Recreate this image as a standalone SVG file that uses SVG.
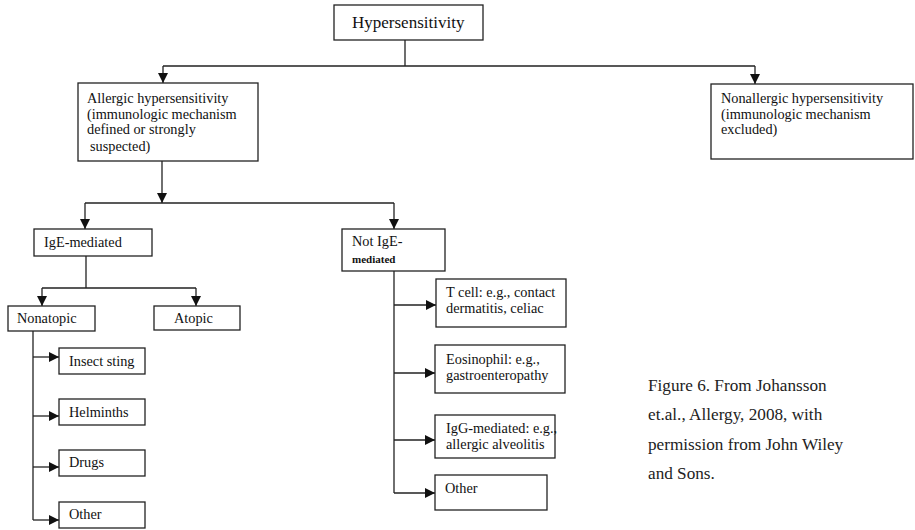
<svg xmlns="http://www.w3.org/2000/svg" width="915" height="530" viewBox="0 0 915 530">
<style>
.box{fill:#fff;stroke:#222;stroke-width:1.3}
.t{font-family:"Liberation Serif","Times New Roman",serif;font-size:14.3px;fill:#111}
.big{font-size:17px}
.sm{font-size:11px;font-weight:bold}
.cap{font-family:"Liberation Serif","Times New Roman",serif;font-size:17.2px;fill:#222}
.ln{fill:none;stroke:#222;stroke-width:1.3}
</style>
<defs>
<marker id="ah" markerUnits="userSpaceOnUse" markerWidth="11" markerHeight="10" refX="10" refY="5" orient="auto">
<path d="M0,0 L10,5 L0,10 z" fill="#111"/>
</marker>
</defs>
<rect width="915" height="530" fill="#fff"/>
<g id="connectors">
<path class="ln" d="M405,40 V66 M163,66 H755"/>
<path class="ln" d="M163,66 V83" marker-end="url(#ah)"/>
<path class="ln" d="M755,66 V84" marker-end="url(#ah)"/>
<path class="ln" d="M162,161 V203" marker-end="url(#ah)"/>
<path class="ln" d="M85,203 H394"/>
<path class="ln" d="M85,203 V229" marker-end="url(#ah)"/>
<path class="ln" d="M394,203 V229" marker-end="url(#ah)"/>
<path class="ln" d="M86,256 V288 M42,288 H196"/>
<path class="ln" d="M42,288 V306" marker-end="url(#ah)"/>
<path class="ln" d="M196,288 V306" marker-end="url(#ah)"/>
<path class="ln" d="M33,331 V520"/>
<path class="ln" d="M33,357 H59" marker-end="url(#ah)"/>
<path class="ln" d="M33,416 H59" marker-end="url(#ah)"/>
<path class="ln" d="M33,467 H59" marker-end="url(#ah)"/>
<path class="ln" d="M33,520 H59" marker-end="url(#ah)"/>
<path class="ln" d="M394,271 V493"/>
<path class="ln" d="M394,305 H436" marker-end="url(#ah)"/>
<path class="ln" d="M394,373 H435" marker-end="url(#ah)"/>
<path class="ln" d="M394,440 H435" marker-end="url(#ah)"/>
<path class="ln" d="M394,493 H435" marker-end="url(#ah)"/>
</g>
<g id="hypersensitivity">
<rect class="box" x="334" y="5" width="149" height="35"/>
<text class="t big" x="352" y="28">Hypersensitivity</text>
</g>
<g id="allergic">
<rect class="box" x="78" y="83" width="180" height="78"/>
<text class="t" x="87" y="103">Allergic hypersensitivity</text>
<text class="t" x="87" y="119">(immunologic mechanism</text>
<text class="t" x="87" y="134">defined or strongly</text>
<text class="t" x="90" y="151">suspected)</text>
</g>
<g id="nonallergic">
<rect class="box" x="711" y="84" width="202" height="75"/>
<text class="t" x="721" y="103">Nonallergic hypersensitivity</text>
<text class="t" x="721" y="119">(immunologic mechanism</text>
<text class="t" x="721" y="134">excluded)</text>
</g>
<g id="ige">
<rect class="box" x="34" y="229" width="118" height="27"/>
<text class="t" x="44" y="247">IgE-mediated</text>
</g>
<g id="notige">
<rect class="box" x="342" y="229" width="103" height="42"/>
<text class="t" x="352" y="246">Not IgE-</text>
<text class="t sm" x="352" y="263">mediated</text>
</g>
<g id="nonatopic">
<rect class="box" x="8" y="306" width="87" height="25"/>
<text class="t" x="17" y="323">Nonatopic</text>
</g>
<g id="atopic">
<rect class="box" x="154" y="306" width="86" height="24"/>
<text class="t" x="174" y="323">Atopic</text>
</g>
<g id="insect">
<rect class="box" x="59" y="348" width="86" height="26"/>
<text class="t" x="69" y="366">Insect sting</text>
</g>
<g id="helminths">
<rect class="box" x="59" y="399" width="86" height="26"/>
<text class="t" x="69" y="417">Helminths</text>
</g>
<g id="drugs">
<rect class="box" x="59" y="450" width="86" height="26"/>
<text class="t" x="69" y="467">Drugs</text>
</g>
<g id="other-left">
<rect class="box" x="59" y="502" width="86" height="26"/>
<text class="t" x="69" y="519">Other</text>
</g>
<g id="tcell">
<rect class="box" x="436" y="279" width="130" height="48"/>
<text class="t" x="446" y="297">T cell: e.g., contact</text>
<text class="t" x="446" y="313">dermatitis, celiac</text>
</g>
<g id="eosinophil">
<rect class="box" x="435" y="345" width="130" height="48"/>
<text class="t" x="446" y="364">Eosinophil: e.g.,</text>
<text class="t" x="446" y="380">gastroenteropathy</text>
</g>
<g id="igg">
<rect class="box" x="435" y="415" width="120" height="43"/>
<text class="t" x="446" y="433">IgG-mediated: e.g.,</text>
<text class="t" x="446" y="449">allergic alveolitis</text>
</g>
<g id="other-right">
<rect class="box" x="435" y="475" width="112" height="35"/>
<text class="t" x="445" y="493">Other</text>
</g>
<g id="caption">
<text class="cap" x="648" y="391">Figure 6. From Johansson</text>
<text class="cap" x="648" y="420">et.al., Allergy, 2008, with</text>
<text class="cap" x="648" y="450">permission from John Wiley</text>
<text class="cap" x="648" y="479">and Sons.</text>
</g>
</svg>
